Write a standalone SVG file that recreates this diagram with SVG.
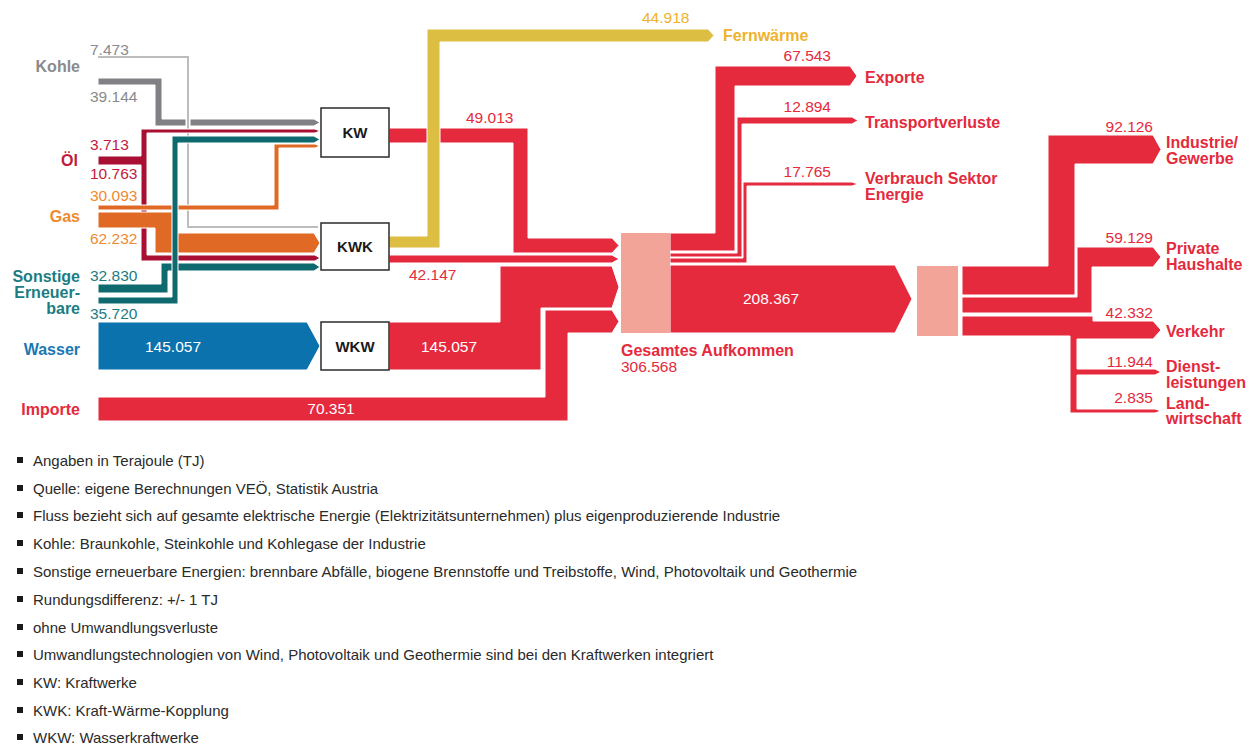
<svg xmlns="http://www.w3.org/2000/svg" width="1260" height="744" viewBox="0 0 1260 744">
  <style>
    text { font-family: "Liberation Sans", Arial, Helvetica, sans-serif; }
    .lbl { font-size: 16px; font-weight: bold; }
    .num { font-size: 15.5px; }
    .note { font-size: 15px; fill: #2a2a2a; }
    .flow { stroke: #ffffff; stroke-width: 1; stroke-linejoin: miter; }
    .red { fill: #e42a3c; }
    .pale { fill: #f2a498; }
    .coal { fill: #808085; }
    .oil { fill: #a90e33; }
    .gas { fill: #e06a25; }
    .ren { fill: #0f6a70; }
    .hydro { fill: #0b72ae; }
    .heat { fill: #dcbe42; }
    .box { fill: #ffffff; stroke: #2b2b2b; stroke-width: 1.5; }
    .boxtxt { font-size: 15px; font-weight: bold; fill: #1a1a1a; text-anchor: middle; }
    .t-red { fill: #e42a3c; }
    .t-coal { fill: #8a8a8c; }
    .t-oil { fill: #c11a3e; }
    .t-gas { fill: #ef8a30; }
    .t-ren { fill: #1b7c82; }
    .t-hydro { fill: #1a78b4; }
    .t-heat { fill: #efb22c; }
    .t-white { fill: #ffffff; }
    .end { text-anchor: end; }
    .mid { text-anchor: middle; }
  </style>

  <rect width="1260" height="744" fill="#ffffff"/>

  <!-- flows -->
  <g id="flows">
    <!-- Kohle into KW -->
    <polygon class="flow coal" points="98,78 162,78 162,119 314,119 320,122.5 314,126 155,126 155,85 98,85"/>
    <!-- Kohle (thin) into KWK -->
    <polyline points="98,57 188,57 188,227 318,227" fill="none" stroke="#ffffff" stroke-width="5"/>
    <polyline points="98,57 188,57 188,227 318,227" fill="none" stroke="#bdbdbd" stroke-width="2"/>
    <!-- Öl into KW and KWK -->
    <polygon class="flow oil" points="98,156 141,156 141,129 315,129 320,131 315,133 147,133 147,255 315,255 320,258 315,261 141,261 141,165 98,165"/>
    <!-- Gas into KW -->
    <polygon class="flow gas" points="98,205 274,205 274,144 315,144 320,146 315,148 279,148 279,210 98,210"/>
    <!-- Gas into KWK -->
    <polygon class="flow gas" points="98,212 175,212 175,233 314,233 320,243 314,253 155,253 155,228 98,228"/>
    <!-- Sonstige Erneuerbare into KWK -->
    <polygon class="flow ren" points="98,284 161,284 161,263 314,263 320,267 314,271 168,271 168,293 98,293"/>
    <!-- Sonstige Erneuerbare into KW -->
    <polygon class="flow ren" points="98,297 172,297 172,136 314,136 320,139.5 314,143 178,143 178,304 98,304"/>
    <!-- Wasser into WKW -->
    <polygon class="flow hydro" points="98,322 307,322 320,346 307,370 98,370"/>

    <!-- KW output -->
    <polygon class="flow red" points="389,128 528,128 528,238 612,238 619,245.5 612,253 513,253 513,143 389,143"/>
    <!-- KWK heat output -->
    <polygon class="flow heat" points="389,236 427,236 427,29 708,29 714,35.5 708,42 440,42 440,248 389,248"/>
    <!-- KWK electric output -->
    <polygon class="flow red" points="389,255 612,255 619,259 612,263 389,263"/>
    <!-- WKW output -->
    <polygon class="flow red" points="389,322 500,322 500,266 612,266 619,287 612,308 541,308 541,370 389,370"/>
    <!-- Importe -->
    <polygon class="flow red" points="98,397 545,397 545,310 612,310 619,321.5 612,333 568,333 568,421 98,421"/>

    <!-- Exporte -->
    <polygon class="flow red" points="670,233 715,233 715,66 850,66 857,76 850,86 735,86 735,251 670,251"/>
    <!-- Transportverluste -->
    <polygon class="flow red" points="670,253 737,253 737,117 852,117 858,120.5 852,124 742,124 742,257 670,257"/>
    <!-- Verbrauch Sektor Energie -->
    <polygon class="flow red" points="670,258 743,258 743,182 852,182 858,184 852,186 747,186 747,263 670,263"/>
    <!-- Inlandsverbrauch -->
    <polygon class="flow red" points="670,265 895,265 912,299 895,333 670,333"/>

    <!-- Industrie/Gewerbe -->
    <polygon class="flow red" points="962,266 1048,266 1048,135 1153,135 1161,149.5 1153,164 1075,164 1075,295 962,295"/>
    <!-- Private Haushalte -->
    <polygon class="flow red" points="962,297 1077,297 1077,247 1153,247 1161,257 1153,267 1092,267 1092,313 962,313"/>
    <!-- Verkehr, Dienstleistungen, Landwirtschaft -->
    <polygon class="flow red" points="962,316 1093,316 1093,321 1153,321 1161,330 1153,339 1077,339 1077,369 1155,369 1161,372 1155,375 1077,375 1077,409 1155,409 1161,411 1155,413 1070,413 1070,336 962,336"/>
  </g>

  <!-- flow values -->
  <g id="values">
    <text class="num t-coal" x="90" y="55">7.473</text>
    <text class="num t-coal" x="90" y="102">39.144</text>
    <text class="num t-oil" x="90" y="150">3.713</text>
    <text class="num t-oil" x="90" y="179">10.763</text>
    <text class="num t-gas" x="90" y="201">30.093</text>
    <text class="num t-gas" x="90" y="244">62.232</text>
    <text class="num t-ren" x="90" y="281">32.830</text>
    <text class="num t-ren" x="90" y="319">35.720</text>
    <text class="num t-white mid" x="173" y="352">145.057</text>
    <text class="num t-white mid" x="449" y="352">145.057</text>
    <text class="num t-white mid" x="331" y="414">70.351</text>
    <text class="num t-red" x="466" y="123">49.013</text>
    <text class="num t-red" x="409" y="280">42.147</text>
    <text class="num t-heat" x="642" y="23">44.918</text>
    <text class="num t-red end" x="831" y="61">67.543</text>
    <text class="num t-red end" x="831" y="112">12.894</text>
    <text class="num t-red end" x="831" y="177">17.765</text>
    <text class="num t-white mid" x="771" y="304">208.367</text>
    <text class="num t-red end" x="1153" y="132">92.126</text>
    <text class="num t-red end" x="1153" y="243">59.129</text>
    <text class="num t-red end" x="1153" y="318">42.332</text>
    <text class="num t-red end" x="1153" y="367">11.944</text>
    <text class="num t-red end" x="1153" y="403">2.835</text>
  </g>

  <!-- sources -->
  <g id="node-kohle"><text class="lbl t-coal end" x="80" y="72">Kohle</text></g>
  <g id="node-oel"><text class="lbl t-oil end" x="78" y="166">Öl</text></g>
  <g id="node-gas"><text class="lbl t-gas end" x="80" y="222">Gas</text></g>
  <g id="node-sonstige">
    <text class="lbl t-ren end" x="80" y="282">Sonstige</text>
    <text class="lbl t-ren end" x="80" y="298">Erneuer-</text>
    <text class="lbl t-ren end" x="80" y="314">bare</text>
  </g>
  <g id="node-wasser"><text class="lbl t-hydro end" x="80" y="355">Wasser</text></g>
  <g id="node-importe"><text class="lbl t-red end" x="80" y="415">Importe</text></g>

  <!-- conversion plants -->
  <g id="node-kw">
    <rect class="box" x="321" y="108" width="68" height="49"/>
    <text class="boxtxt" x="355" y="138">KW</text>
  </g>
  <g id="node-kwk">
    <rect class="box" x="321" y="223" width="68" height="47"/>
    <text class="boxtxt" x="355" y="252">KWK</text>
  </g>
  <g id="node-wkw">
    <rect class="box" x="321" y="322" width="68" height="48"/>
    <text class="boxtxt" x="355" y="352">WKW</text>
  </g>

  <!-- totals -->
  <g id="node-gesamt">
    <rect class="pale" x="621" y="233" width="49" height="100"/>
    <text class="lbl t-red" x="621" y="356">Gesamtes Aufkommen</text>
    <text class="num t-red" x="621" y="372">306.568</text>
  </g>
  <g id="node-inland">
    <rect class="pale" x="917" y="266" width="41" height="70"/>
  </g>

  <!-- sinks -->
  <g id="node-fernwaerme"><text class="lbl t-heat" x="723" y="41">Fernwärme</text></g>
  <g id="node-exporte"><text class="lbl t-red" x="865" y="83">Exporte</text></g>
  <g id="node-transport"><text class="lbl t-red" x="865" y="128">Transportverluste</text></g>
  <g id="node-verbrauch">
    <text class="lbl t-red" x="865" y="184">Verbrauch Sektor</text>
    <text class="lbl t-red" x="865" y="200">Energie</text>
  </g>
  <g id="node-industrie">
    <text class="lbl t-red" x="1166" y="148">Industrie/</text>
    <text class="lbl t-red" x="1166" y="164">Gewerbe</text>
  </g>
  <g id="node-haushalte">
    <text class="lbl t-red" x="1166" y="254">Private</text>
    <text class="lbl t-red" x="1166" y="270">Haushalte</text>
  </g>
  <g id="node-verkehr"><text class="lbl t-red" x="1166" y="337">Verkehr</text></g>
  <g id="node-dienst">
    <text class="lbl t-red" x="1166" y="372">Dienst-</text>
    <text class="lbl t-red" x="1166" y="388">leistungen</text>
  </g>
  <g id="node-land">
    <text class="lbl t-red" x="1166" y="409">Land-</text>
    <text class="lbl t-red" x="1166" y="424">wirtschaft</text>
  </g>

  <!-- notes -->
  <g id="notes">
    <rect x="17" y="457" width="6" height="6" fill="#1a1a1a"/>
    <text class="note" x="33" y="466">Angaben in Terajoule (TJ)</text>
    <rect x="17" y="485" width="6" height="6" fill="#1a1a1a"/>
    <text class="note" x="33" y="494">Quelle: eigene Berechnungen VEÖ, Statistik Austria</text>
    <rect x="17" y="512" width="6" height="6" fill="#1a1a1a"/>
    <text class="note" x="33" y="521">Fluss bezieht sich auf gesamte elektrische Energie (Elektrizitätsunternehmen) plus eigenproduzierende Industrie</text>
    <rect x="17" y="540" width="6" height="6" fill="#1a1a1a"/>
    <text class="note" x="33" y="549">Kohle: Braunkohle, Steinkohle und Kohlegase der Industrie</text>
    <rect x="17" y="568" width="6" height="6" fill="#1a1a1a"/>
    <text class="note" x="33" y="577">Sonstige erneuerbare Energien: brennbare Abfälle, biogene Brennstoffe und Treibstoffe, Wind, Photovoltaik und Geothermie</text>
    <rect x="17" y="596" width="6" height="6" fill="#1a1a1a"/>
    <text class="note" x="33" y="605">Rundungsdifferenz: +/- 1 TJ</text>
    <rect x="17" y="624" width="6" height="6" fill="#1a1a1a"/>
    <text class="note" x="33" y="633">ohne Umwandlungsverluste</text>
    <rect x="17" y="651" width="6" height="6" fill="#1a1a1a"/>
    <text class="note" x="33" y="660">Umwandlungstechnologien von Wind, Photovoltaik und Geothermie sind bei den Kraftwerken integriert</text>
    <rect x="17" y="679" width="6" height="6" fill="#1a1a1a"/>
    <text class="note" x="33" y="688">KW: Kraftwerke</text>
    <rect x="17" y="707" width="6" height="6" fill="#1a1a1a"/>
    <text class="note" x="33" y="716">KWK: Kraft-Wärme-Kopplung</text>
    <rect x="17" y="734" width="6" height="6" fill="#1a1a1a"/>
    <text class="note" x="33" y="743">WKW: Wasserkraftwerke</text>
  </g>
</svg>
